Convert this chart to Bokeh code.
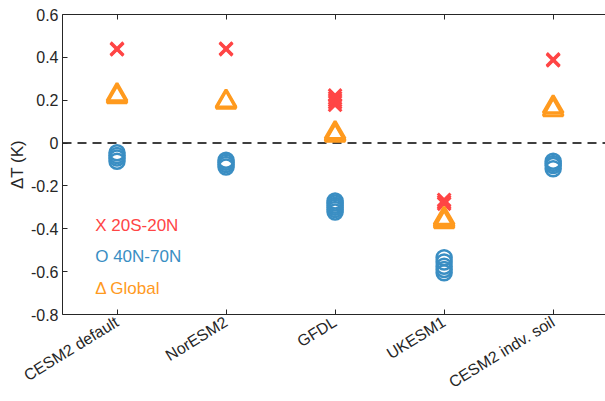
from bokeh.plotting import figure
from bokeh.models import FixedTicker, LinearAxis, Span, Range1d
from bokeh.embed import file_html
from bokeh.resources import INLINE
from bokeh.core.properties import value

# Models and their x positions
models = ["CESM2 default", "NorESM2", "GFDL", "UKESM1", "CESM2 indv. soil"]
model_pos = [1, 2, 3, 4, 5]

# Ensemble-member temperature changes (K) per model
tropics_20s_20n = [
    [0.437, 0.440],
    [0.438, 0.441],
    [0.178, 0.190, 0.200, 0.210, 0.222],
    [-0.265, -0.275, -0.283],
    [0.386, 0.390],
]
midlat_40n_70n = [
    [-0.045, -0.058, -0.070, -0.085],
    [-0.080, -0.090, -0.100, -0.112],
    [-0.270, -0.280, -0.290, -0.300, -0.310, -0.322],
    [-0.535, -0.555, -0.575, -0.590, -0.605],
    [-0.085, -0.095, -0.105, -0.120],
]
global_mean = [
    [0.215, 0.225],
    [0.190, 0.195],
    [0.035, 0.040, 0.048],
    [-0.352, -0.360, -0.368],
    [0.155, 0.168],
]

y_ticks = [-0.8, -0.6, -0.4, -0.2, 0.0, 0.2, 0.4, 0.6]
legend_labels = ["X 20S-20N", "O 40N-70N", "\u0394 Global"]

RED = "#FF4545"
BLUE = "#3A8EC3"
ORANGE = "#FF9A1E"
AXIS = "#262626"
FONT = "Liberation Sans"


def flatten(series):
    xs, ys = [], []
    for pos, vals in zip(model_pos, series):
        for v in vals:
            xs.append(pos)
            ys.append(v)
    return xs, ys


p = figure(
    width=605, height=401,
    x_range=Range1d(0.5, 5.48), y_range=Range1d(-0.8, 0.6),
    output_backend="svg", toolbar_location=None,
    min_border_left=62, min_border_right=0,
    min_border_top=14, min_border_bottom=85,
)
p.grid.visible = False
p.outline_line_color = None
p.background_fill_color = "white"
p.border_fill_color = "white"

# bottom axis with slanted model names
p.xaxis.ticker = FixedTicker(ticks=model_pos)
p.xaxis.major_label_overrides = {pos: name for pos, name in zip(model_pos, models)}
p.xaxis.major_label_orientation = 0.55
p.xaxis.major_label_standoff = 6

# left axis
p.yaxis.ticker = FixedTicker(ticks=y_ticks)
p.yaxis.major_label_overrides = {t: ("0" if t == 0 else f"{t:.1f}") for t in y_ticks}
p.yaxis.axis_label = "\u0394T (K)"
p.yaxis.major_label_standoff = 4
p.yaxis.axis_label_standoff = 1

for ax in (p.xaxis[0], p.yaxis[0]):
    ax.axis_line_color = AXIS
    ax.major_tick_line_color = AXIS
    ax.minor_tick_line_color = None
    ax.major_tick_in = 5
    ax.major_tick_out = 0
    ax.major_label_text_font = FONT
    ax.major_label_text_font_size = "16px"
    ax.major_label_text_color = AXIS
    ax.axis_label_text_font = FONT
    ax.axis_label_text_font_size = "17px"
    ax.axis_label_text_font_style = "normal"
    ax.axis_label_text_color = AXIS

# top box edge with inward ticks, no labels
top = LinearAxis(
    ticker=FixedTicker(ticks=model_pos),
    major_label_text_font_size="0px",
    major_label_text_color=None,
    major_label_standoff=0,
    major_tick_in=5, major_tick_out=0,
    minor_tick_line_color=None,
    axis_line_color=AXIS, major_tick_line_color=AXIS,
)
p.add_layout(top, "above")

# zero reference line
zero = Span(location=0, dimension="width", line_color="black",
            line_width=1.5, line_dash="9 6", level="underlay")
p.add_layout(zero)

xs, ys = flatten(tropics_20s_20n)
p.scatter(xs, ys, marker="x", size=18, line_color=RED, line_width=3)

xs, ys = flatten(midlat_40n_70n)
p.scatter(xs, ys, marker="circle", size=15, line_color=BLUE, line_width=2.5,
          fill_color=None)

xs, ys = flatten(global_mean)
p.scatter(xs, ys, marker="triangle", size=20, line_color=ORANGE, line_width=3,
          fill_color=None)

# in-plot legend text
p.text(x=[0.80] * 3, y=[-0.383, -0.531, -0.680], text=legend_labels,
       text_color=[RED, BLUE, ORANGE], text_font=value(FONT),
       text_font_size="17px", text_baseline="alphabetic", text_align="left")

open("out.html", "w").write(file_html(p, INLINE))
